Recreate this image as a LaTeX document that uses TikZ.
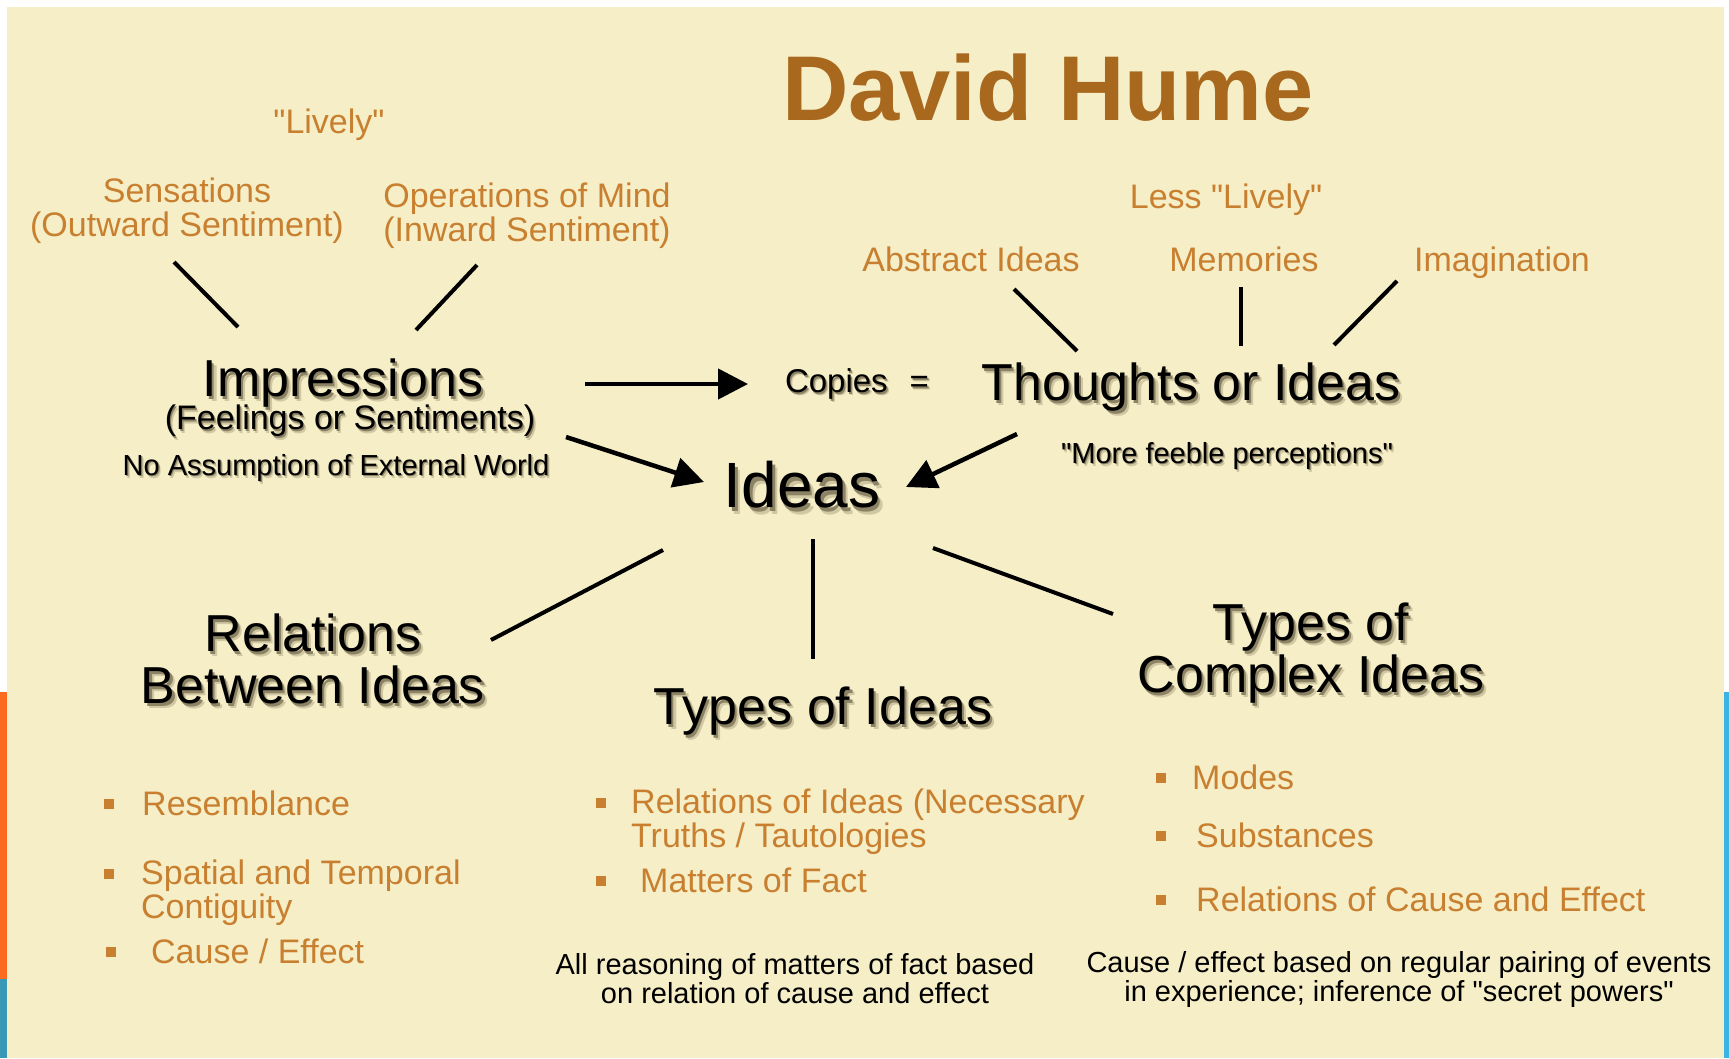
\documentclass[tikz,border=0pt]{standalone}
\usepackage{fontspec}
\newfontfamily\humefont{Liberation Sans}
\usetikzlibrary{arrows.meta}
\definecolor{cream}{RGB}{245,238,199}
\definecolor{humeor}{RGB}{200,128,48}
\definecolor{humetitle}{RGB}{168,104,30}
\definecolor{stripor}{RGB}{250,106,32}
\definecolor{stripbl}{RGB}{56,152,184}
\definecolor{stripbr}{RGB}{58,180,226}
\definecolor{shdA}{RGB}{140,130,100}
\definecolor{shdB}{RGB}{208,199,163}
% text with a soft drop shadow
\newcommand\shd[1]{\leavevmode\rlap{\smash{\kern0.08em\raisebox{-0.1em}{\textcolor{shdB}{#1}}}}\rlap{\smash{\kern0.04em\raisebox{-0.05em}{\textcolor{shdA}{#1}}}}#1}
% square bullet hung left of an item
\newcommand\bsq[1][28pt]{\llap{\textcolor{humeor}{\rule[6pt]{10pt}{10pt}}\hspace{#1}}}
% keep baselines evenly spaced
\newcommand\tightlines{\lineskiplimit-100pt\relax}

\begin{document}
\humefont
\begin{tikzpicture}[x=1pt,y=-1pt,
    every node/.style={inner sep=0pt},
    tag/.style={text=humeor,font=\fontsize{34}{34}\selectfont\tightlines,align=center},
    head/.style={text=black,font=\fontsize{52}{52}\selectfont\tightlines,align=center},
    note/.style={text=black,font=\fontsize{29}{29}\selectfont\tightlines,align=center},
    lst/.style={text=humeor,font=\fontsize{34}{34}\selectfont\tightlines,align=left,anchor=west},
    link/.style={line width=4pt},
    push/.style={line width=4.5pt,-{Triangle[length=30pt,width=30pt]}}]
    % background
    \fill [white] (0,0) rectangle (1729,1058);
    \fill [cream] (7,7) rectangle (1724,1058);
    \fill [stripor] (0,692) rectangle (7,979);
    \fill [stripbl] (0,979) rectangle (7,1058);
    \fill [stripbr] (1724,692) rectangle (1729,1058);
    \useasboundingbox (0,0) rectangle (1729,1058);
    % title
    \node [text=humetitle,font=\fontsize{92}{92}\selectfont\bfseries] (title) at (1048,88) {David Hume};
    % impressions side
    \node [tag] (lively) at (329,125) {"Lively"};
    \node [tag] (sens) at (187,211) {Sensations\\(Outward Sentiment)};
    \node [tag] (oper) at (527,216) {Operations of Mind\\(Inward Sentiment)};
    \node [head] (impr) at (343,383) {\shd{Impressions}};
    \node [head,font=\fontsize{34}{34}\selectfont] (feel) at (350,421) {\shd{(Feelings or Sentiments)}};
    \node [note] (noext) at (336,468) {\shd{No Assumption of External World}};
    \node [note,font=\fontsize{33}{33}\selectfont] (copies) at (857,384) {\shd{Copies\hspace{22pt}=}};
    % ideas side
    \node [tag] (less) at (1226,200) {Less "Lively"};
    \node [tag] (abst) at (971,259) {Abstract Ideas};
    \node [tag] (mem) at (1244,259) {Memories};
    \node [tag] (imag) at (1502,263) {Imagination};
    \node [head] (thought) at (1191,387) {\shd{Thoughts or Ideas}};
    \node [note] (feeble) at (1227,456) {\shd{"More feeble perceptions"}};
    \node [head,font=\fontsize{64}{64}\selectfont] (ideas) at (802,485) {\shd{Ideas}};
    % three branches
    \node [head] (relb) at (313,659) {\shd{Relations}\\\shd{Between Ideas}};
    \node [head] (types) at (823,711) {\shd{Types of Ideas}};
    \node [head] (cplx) at (1311,653) {\shd{Types of}\\\shd{Complex Ideas}};
    \node [lst] (resem) at (142,803) {\bsq Resemblance};
    \node [lst] (spat) at (141,893) {\bsq[27pt]Spatial and Temporal\\Contiguity};
    \node [lst] (cause) at (151,951) {\bsq[35pt]Cause / Effect};
    \node [lst] (relid) at (631,822) {\bsq[25pt]Relations of Ideas (Necessary\\Truths / Tautologies};
    \node [lst] (fact) at (640,880) {\bsq[34pt]Matters of Fact};
    \node [lst] (modes) at (1192,777) {\bsq[26pt]Modes};
    \node [lst] (subst) at (1196,835) {\bsq[30pt]Substances};
    \node [lst] (rce) at (1196,899) {\bsq[30pt]Relations of Cause and Effect};
    \node [note] (allreas) at (795,979) {All reasoning of matters of fact based\\on relation of cause and effect};
    \node [note] (pairing) at (1399,979) {Cause / effect based on regular pairing of events\\in experience; inference of "secret powers"};
    % connectors
    \draw [link] ([shift={(-13,51)}]sens.center) -- ([shift={(-105,-56)}]impr.center);
    \draw [link] ([shift={(-50,49)}]oper.center) -- ([shift={(73,-53)}]impr.center);
    \draw [push] ([shift={(242,1)}]impr.center) -- ([shift={(-109,0)}]copies.center);
    \draw [link] ([shift={(43,30)}]abst.center) -- ([shift={(-114,-36)}]thought.center);
    \draw [link] ([shift={(-3,28)}]mem.center) -- ([shift={(50,-41)}]thought.center);
    \draw [link] ([shift={(-105,18)}]imag.center) -- ([shift={(143,-42)}]thought.center);
    \draw [push] ([shift={(223,54)}]impr.center) -- ([shift={(-98,-3)}]ideas.center);
    \draw [push] ([shift={(-174,47)}]thought.center) -- ([shift={(104,2)}]ideas.center);
    \draw [link] ([shift={(-139,65)}]ideas.center) -- ([shift={(178,-19)}]relb.center);
    \draw [link] ([shift={(11,54)}]ideas.center) -- ([shift={(-10,-52)}]types.center);
    \draw [link] ([shift={(131,63)}]ideas.center) -- ([shift={(-198,-39)}]cplx.center);
\end{tikzpicture}
\end{document}
